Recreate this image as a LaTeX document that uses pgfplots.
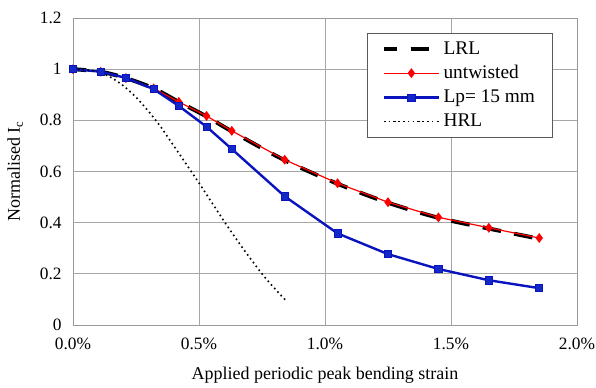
\documentclass[border=0pt]{standalone}
\usepackage{pgfplots}
\pgfplotsset{compat=1.18}
\usepackage{fontspec}
\setmainfont{Liberation Serif}
\definecolor{myblue}{RGB}{10,20,190}
\definecolor{mybluefill}{RGB}{20,40,200}
\begin{document}
\begin{tikzpicture}[x=0.75pt,y=0.75pt]
\path[use as bounding box] (-73,-62) rectangle (523,325);
\begin{axis}[
  at={(0,0)}, anchor=south west,
  scale only axis, width=378pt, height=230.25pt,
  xmin=0, xmax=2, ymin=0, ymax=1.2,
  xtick={0,0.5,1,1.5,2},
  ytick={0,0.2,0.4,0.6,0.8,1,1.2},
  xticklabel={\pgfmathprintnumber[fixed,fixed zerofill,precision=1]{\tick}\%},
  /pgf/number format/assume math mode=true,
  grid=major,
  major grid style={gray!70, line width=0.6pt},
  axis line style={gray!80, line width=0.6pt},
  tick style={draw=none},
  ticklabel style={font=\fontsize{13}{15}\selectfont},
  xticklabel style={yshift=-6pt},
  yticklabel style={xshift=-5pt},
  label style={font=\fontsize{13.5}{16}\selectfont},
  xlabel={Applied periodic peak bending strain},
  ylabel={Normalised I\textsubscript{c}},
  xlabel style={at={(0.5,0)}, anchor=north, yshift=-28pt},
  ylabel style={at={(0,0.5)}, anchor=south, xshift=0pt, yshift=34pt},
  legend style={at={(0.583,0.951)}, anchor=north west, draw=gray!70!black, line width=0.6pt,
    font=\fontsize{14.5}{17}\selectfont, row sep=3pt, inner xsep=11pt, inner ysep=4pt},
  legend cell align=left,
  legend image code/.code={\draw[#1] (0cm,0cm) -- (1.45cm,0cm);
    \path[#1, mark repeat=2, mark phase=2] plot coordinates {(0cm,0cm) (0.725cm,0cm) (1.45cm,0cm)};},
]
\addplot[black, line width=3pt, dash pattern=on 14pt off 10pt, dash phase=4pt, smooth] coordinates {
(0,1.0) (0.11,0.99) (0.21,0.965) (0.32,0.925) (0.42,0.872) (0.53,0.815) (0.63,0.757) (0.84,0.644) (1.05,0.552) (1.25,0.478) (1.45,0.419) (1.65,0.377) (1.85,0.337)
};
\addlegendentry{LRL}
\addplot[red, line width=0.9pt, mark=diamond*, mark size=3pt, mark options={fill=red, draw=red}] coordinates {
(0,1.0) (0.11,0.99) (0.21,0.965) (0.32,0.925) (0.42,0.872) (0.53,0.817) (0.63,0.759) (0.84,0.646) (1.05,0.554) (1.25,0.48) (1.45,0.421) (1.65,0.38) (1.85,0.34)
};
\addlegendentry{untwisted}
\addplot[myblue, line width=1.8pt, mark=square*, mark size=2.7pt, mark options={fill=mybluefill, draw=myblue, line width=0.5pt}] coordinates {
(0,1.0) (0.11,0.99) (0.21,0.966) (0.32,0.922) (0.42,0.856) (0.53,0.775) (0.63,0.688) (0.84,0.503) (1.05,0.358) (1.25,0.277) (1.45,0.219) (1.65,0.175) (1.85,0.144)
};
\addlegendentry{Lp= 15 mm}
\addplot[black, line width=1.2pt, dash pattern=on 1.2pt off 2.4pt, smooth] coordinates {
(0,1.0) (0.05,0.998) (0.1,0.99) (0.15,0.968) (0.2,0.935) (0.25,0.89) (0.3,0.835) (0.35,0.772) (0.4,0.70) (0.45,0.628) (0.5,0.555) (0.55,0.48) (0.6,0.405) (0.65,0.333) (0.7,0.265) (0.75,0.20) (0.8,0.143) (0.85,0.09)
};
\addlegendentry{HRL}
\end{axis}
\end{tikzpicture}
\end{document}
